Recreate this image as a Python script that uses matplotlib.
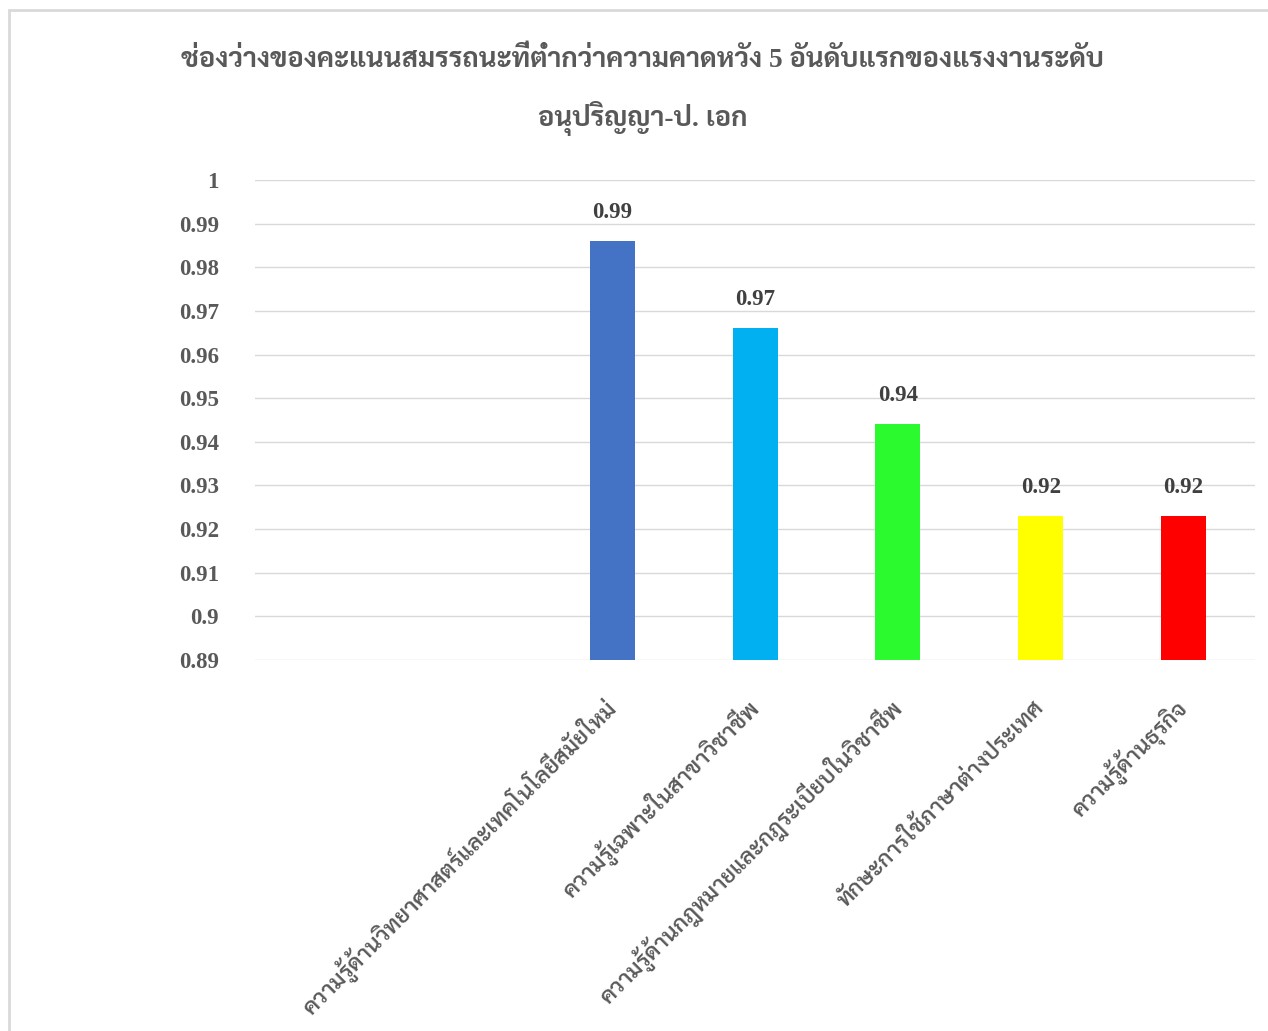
import matplotlib
matplotlib.use("Agg")
import matplotlib.pyplot as plt
from matplotlib.patches import Rectangle

plt.rcParams['font.family'] = ['Liberation Serif', 'Sarabun']

title = "ช่องว่างของคะแนนสมรรถนะที่ต่ำกว่าความคาดหวัง 5 อันดับแรกของแรงงานระดับ\nอนุปริญญา-ป. เอก"
# two blank categories come first on the axis
categories = ["", "",
              "ความรู้ด้านวิทยาศาสตร์และเทคโนโลยีสมัยใหม่",
              "ความรู้เฉพาะในสาขาวิชาชีพ",
              "ความรู้ด้านกฎหมายและกฎระเบียบในวิชาชีพ",
              "ทักษะการใช้ภาษาต่างประเทศ",
              "ความรู้ด้านธุรกิจ"]
values = [None, None, 0.986, 0.966, 0.944, 0.923, 0.923]
colors = [None, None, "#4472C4", "#00B0F0", "#2BFB2E", "#FFFF00", "#FF0000"]

text_col = "#595959"

fig = plt.figure(figsize=(12.68, 10.31), dpi=100)
ax = fig.add_axes([255 / 1268, 1 - 660 / 1031, 1000 / 1268, 480 / 1031])

x = list(range(len(categories)))
for i, v in enumerate(values):
    if v is None:
        continue
    ax.bar(i, v - 0.89, bottom=0.89, width=0.315, color=colors[i], zorder=3)
    ax.text(i, v + 0.0042, "%.2f" % v, ha="center", va="bottom",
            fontsize=16.5, fontweight="bold", color="#404040")

ax.set_xlim(-0.5, len(categories) - 0.5)
ax.set_ylim(0.89, 1.0)
ax.set_yticks([0.89 + 0.01 * k for k in range(12)])
ax.set_yticklabels(["0.89", "0.9", "0.91", "0.92", "0.93", "0.94", "0.95",
                    "0.96", "0.97", "0.98", "0.99", "1"])
ax.set_xticks(x)
ax.set_xticklabels(categories, rotation=45, ha="right", va="center",
                   rotation_mode="anchor", fontsize=16.4, fontweight="semibold",
                   color=text_col)
for t in ax.get_yticklabels():
    t.set_fontsize(16.5)
    t.set_fontweight("bold")
    t.set_color(text_col)
ax.tick_params(axis="both", length=0)
ax.tick_params(axis="y", pad=26)
ax.tick_params(axis="x", pad=32)
ax.grid(axis="y", color="#D9D9D9", linewidth=1, zorder=0)
for s in ax.spines.values():
    s.set_visible(False)

fig.text(0.507, 1 - 91 / 1031, title, ha="center", va="center", fontsize=19.7,
         fontweight="bold", color=text_col, linespacing=2.1)

# chart frame
fig.patches.append(Rectangle((9 / 1268, -0.1), 1.2, 1 - 10 / 1031 + 0.1,
                             transform=fig.transFigure, fill=False,
                             edgecolor="#D9D9D9", linewidth=2))

fig.savefig("out.png")
